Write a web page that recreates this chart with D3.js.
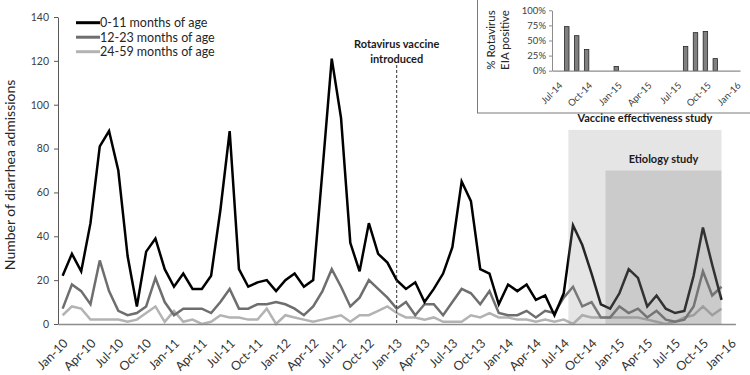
<!DOCTYPE html>
<html>
<head>
<meta charset="utf-8">
<script src="https://cdn.jsdelivr.net/npm/d3@7"></script>
<style>
  body { margin: 0; background: #fff; }
  svg { font-family: Lato, "Open Sans", sans-serif; }
</style>
</head>
<body>
<script>
var width = 750, height = 375;

// month categories, Jan-10 .. Jan-16
var monthNames = ["Jan", "Feb", "Mar", "Apr", "May", "Jun", "Jul", "Aug", "Sep", "Oct", "Nov", "Dec"];
var yearLabels = ["10", "11", "12", "13", "14", "15", "16"];
var months = [];
yearLabels.forEach(function(y, yi) {
    monthNames.forEach(function(m) {
        if (yi < 6 || m == "Jan") months.push(m + "-" + y);
    });
});

// diarrhea admissions per month, Jan-10 .. Dec-15
var age0to11 = [22, 32, 24, 46, 81, 88, 70, 31, 8, 33, 39, 25,
                17, 23, 16, 16, 22, 52, 88, 25, 17, 19, 20, 15,
                20, 23, 17, 20, 70, 121, 94, 37, 24, 46, 32, 28,
                20, 16, 19, 10, 16, 23, 35, 65, 56, 25, 23, 9,
                18, 15, 18, 11, 13, 4, 14, 45, 36, 23, 9, 7,
                14, 25, 21, 8, 13, 7, 5, 6, 22, 44, 27, 11];
var age12to23 = [7, 18, 15, 9, 29, 15, 6, 4, 5, 8, 21, 10,
                 4, 7, 7, 7, 5, 10, 16, 7, 7, 9, 9, 10,
                 9, 7, 4, 8, 15, 25, 17, 8, 12, 20, 16, 12,
                 7, 10, 4, 9, 9, 4, 10, 16, 14, 9, 15, 5,
                 4, 4, 6, 3, 6, 5, 12, 17, 8, 10, 3, 3,
                 8, 5, 7, 3, 6, 2, 1, 2, 8, 24, 13, 17];
var age24to59 = [4, 8, 7, 2, 2, 2, 2, 1, 2, 5, 8, 1,
                 6, 1, 2, 0, 1, 4, 3, 3, 2, 2, 7, 0,
                 4, 3, 2, 1, 2, 3, 4, 1, 4, 4, 6, 8,
                 5, 3, 3, 2, 3, 1, 1, 1, 4, 3, 5, 3,
                 3, 2, 2, 1, 2, 1, 2, 0, 4, 3, 3, 3,
                 3, 3, 3, 2, 1, 0, 1, 3, 4, 8, 4, 7];

var seriesNames = ["0-11 months of age", "12-23 months of age", "24-59 months of age"];
var seriesColors = ["#000000", "#6e6e6e", "#b3b3b3"];
var yTicks = [0, 20, 40, 60, 80, 100, 120, 140];
var xTickLabels = months.filter(function(m, i) { return i % 3 == 0; });

var vaccineIntro = "Jan-13";
var studyNames = ["Vaccine effectiveness study", "Etiology study"];
var studyStart = ["Aug-14", "Dec-14"];
var studyEnd = ["Dec-15", "Dec-15"];
var studyTop = [88.5, 70];

// inset: % rotavirus EIA positive
var insetMonths = months.slice(54);
var insetBarMonths = ["Aug-14", "Sep-14", "Oct-14", "Jan-15", "Aug-15", "Sep-15", "Oct-15", "Nov-15"];
var insetBarValues = [73, 58, 35, 7, 40, 63, 65, 20];
var insetYTicks = [0, 25, 50, 75, 100];
var insetXTickLabels = ["Jul-14", "Oct-14", "Jan-15", "Apr-15", "Jul-15", "Oct-15", "Jan-16"];

var svg = d3.select("body").append("svg")
    .attr("width", width)
    .attr("height", height);

var x = d3.scaleBand().domain(months).range([58, 735.4]);
var y = d3.scaleLinear().domain([0, 140]).range([324, 17]);
function cx(m) { return x(m) + x.bandwidth() / 2; }

// study shading (drawn over lines, semi transparent)
var shadeFill = ["#999999", "#666666"];
var shadeOpacity = [0.25, 0.2];

// y axis
var yAxis = svg.append("g")
    .attr("transform", "translate(58,0)")
    .call(d3.axisLeft(y).tickValues(yTicks).tickSize(4).tickSizeOuter(0).tickPadding(5));
yAxis.select(".domain").attr("stroke", "#595959");
yAxis.selectAll(".tick line").attr("stroke", "#595959");
yAxis.selectAll("text").attr("font-size", "10.5px").attr("fill", "#404040").attr("font-family", "Lato");

svg.append("text")
    .attr("transform", "translate(15," + y(68) + ") rotate(-90)")
    .attr("text-anchor", "middle")
    .attr("font-size", "14px")
    .attr("fill", "#262626")
    .text("Number of diarrhea admissions");

// lines
var series = [age0to11, age12to23, age24to59];
var line = d3.line()
    .x(function(d, i) { return cx(months[i]); })
    .y(function(d) { return y(d); });

series.slice().reverse().forEach(function(s, k) {
    var idx = series.length - 1 - k;
    svg.append("path")
        .datum(s)
        .attr("fill", "none")
        .attr("stroke", seriesColors[idx])
        .attr("stroke-width", 2.5)
        .attr("stroke-linejoin", "miter")
        .attr("d", line);
});

// x axis
var xAxis = svg.append("g")
    .attr("transform", "translate(0,324)")
    .call(d3.axisBottom(x).tickValues(xTickLabels).tickSize(0).tickSizeOuter(0));
xAxis.select(".domain").attr("stroke", "#8c8c8c").attr("stroke-width", 1.5);
xAxis.selectAll("text")
    .attr("font-size", "12.5px")
    .attr("fill", "#333")
    .attr("font-family", "Lato")
    .attr("text-anchor", "end")
    .attr("y", 0).attr("dy", "0.35em")
    .attr("transform", "translate(3,17) rotate(-45)");

// shading boxes
studyNames.forEach(function(name, i) {
    var x0 = x(studyStart[i]);
    var x1 = cx(studyEnd[i]);
    svg.append("rect")
        .attr("x", x0)
        .attr("y", y(studyTop[i]))
        .attr("width", x1 - x0)
        .attr("height", y(0) - y(studyTop[i]))
        .attr("fill", shadeFill[i])
        .attr("fill-opacity", shadeOpacity[i]);
    svg.append("text")
        .attr("x", (x0 + x1) / 2)
        .attr("y", y(studyTop[i]) - 8)
        .attr("text-anchor", "middle")
        .attr("font-size", "11px")
        .attr("font-weight", "bold")
        .attr("fill", "#1a1a1a")
        .text(name);
});

// vaccine introduction marker
svg.append("line")
    .attr("x1", cx(vaccineIntro)).attr("x2", cx(vaccineIntro))
    .attr("y1", 65).attr("y2", y(0))
    .attr("stroke", "#333")
    .attr("stroke-width", 1)
    .attr("stroke-dasharray", "3,2");
svg.append("text")
    .attr("x", cx(vaccineIntro)).attr("y", 48)
    .attr("text-anchor", "middle")
    .attr("font-size", "11px").attr("font-weight", "bold").attr("fill", "#1a1a1a")
    .text("Rotavirus vaccine");
svg.append("text")
    .attr("x", cx(vaccineIntro)).attr("y", 63)
    .attr("text-anchor", "middle")
    .attr("font-size", "11px").attr("font-weight", "bold").attr("fill", "#1a1a1a")
    .text("introduced");

// legend
var legend = svg.selectAll(".legend")
    .data(seriesNames)
    .enter().append("g")
        .attr("class", "legend")
        .attr("transform", function(d, i) { return "translate(76," + (22.7 + i * 14.5) + ")"; });
legend.append("line")
    .attr("x1", 0).attr("x2", 24)
    .attr("stroke", function(d, i) { return seriesColors[i]; })
    .attr("stroke-width", 3);
legend.append("text")
    .attr("x", 24).attr("dy", "0.35em")
    .attr("font-size", "12.5px").attr("fill", "#262626")
    .text(function(d) { return d; });

// inset chart
var inset = svg.append("g");
inset.append("rect")
    .attr("x", 477.5).attr("y", -2)
    .attr("width", 280).attr("height", 115)
    .attr("fill", "#fff")
    .attr("stroke", "#7a7a7a");

var ix = d3.scaleBand().domain(insetMonths).range([552, 740]).paddingInner(0.55).paddingOuter(0.27);
var iy = d3.scaleLinear().domain([0, 100]).range([70.7, 10.3]);

var iyAxis = inset.append("g")
    .attr("transform", "translate(552,0)")
    .call(d3.axisLeft(iy).tickValues(insetYTicks).tickSize(3).tickSizeOuter(0)
        .tickFormat(function(d) { return d + "%"; }));
iyAxis.select(".domain").attr("stroke", "#8c8c8c");
iyAxis.selectAll(".tick line").attr("stroke", "#8c8c8c");
iyAxis.selectAll("text").attr("font-size", "9.5px").attr("fill", "#404040").attr("font-family", "Lato");

inset.selectAll(".bar")
    .data(insetBarValues)
    .enter().append("rect")
        .attr("class", "bar")
        .attr("x", function(d, i) { return ix(insetBarMonths[i]); })
        .attr("y", function(d) { return iy(d); })
        .attr("width", ix.bandwidth())
        .attr("height", function(d) { return iy(0) - iy(d); })
        .attr("fill", "#808080")
        .attr("stroke", "#262626")
        .attr("stroke-width", 0.8);

var ixAxis = inset.append("g")
    .attr("transform", "translate(0," + iy(0) + ")")
    .call(d3.axisBottom(ix).tickValues(insetXTickLabels).tickSize(0).tickSizeOuter(0));
ixAxis.select(".domain").attr("stroke", "#8c8c8c").attr("stroke-width", 1.2);
ixAxis.selectAll("text")
    .attr("font-size", "9.5px")
    .attr("fill", "#404040")
    .attr("font-family", "Lato")
    .attr("text-anchor", "end")
    .attr("y", 0).attr("dy", "0.35em")
    .attr("transform", "translate(4,13) rotate(-45)");

inset.append("text")
    .attr("transform", "translate(495,40) rotate(-90)")
    .attr("text-anchor", "middle")
    .attr("font-size", "11.5px").attr("fill", "#262626")
    .text("% Rotavirus");
inset.append("text")
    .attr("transform", "translate(509,40) rotate(-90)")
    .attr("text-anchor", "middle")
    .attr("font-size", "11.5px").attr("fill", "#262626")
    .text("EIA positive");
</script>
</body>
</html>
